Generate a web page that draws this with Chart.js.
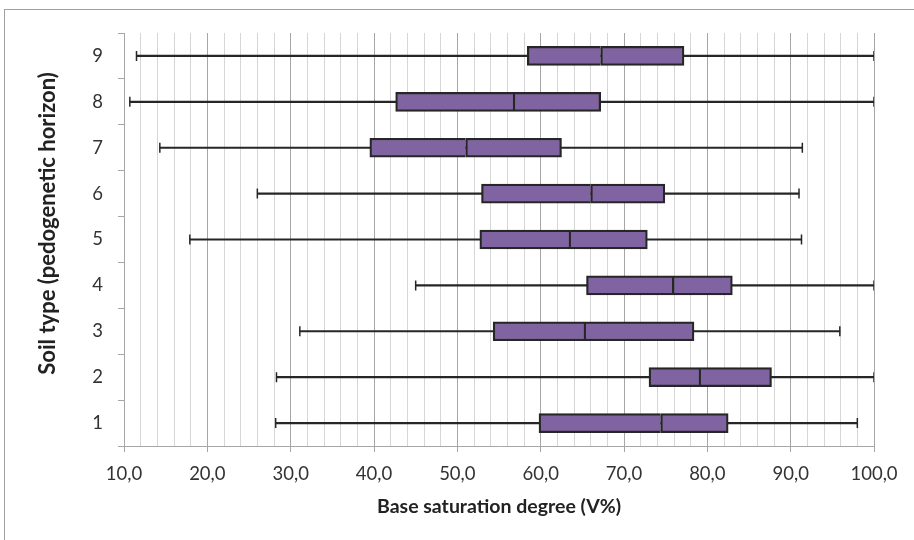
<!DOCTYPE html>
<html><head><meta charset="utf-8">
<script src="https://cdn.jsdelivr.net/npm/chart.js@4/dist/chart.umd.min.js"></script>
<style>
html,body{margin:0;padding:0;background:#fff;overflow:hidden;}
#wrap{position:relative;width:914px;height:540px;overflow:hidden;}
#frame{position:absolute;left:4px;top:9px;width:1000px;height:700px;border-top:1px solid #a0a0a0;border-left:1px solid #a0a0a0;}
canvas{position:absolute;left:0;top:0;}
</style></head><body>
<div id="wrap"><div id="frame"></div><canvas id="c" width="914" height="540"></canvas></div>
<script>
const soilTypes = ['1','2','3','4','5','6','7','8','9'];
const minV = [28.2, 28.3, 31.1, 45.0, 17.9, 26.0, 14.3, 10.7, 11.5];
const q1V  = [59.8, 73.0, 54.3, 65.5, 52.7, 52.9, 39.5, 42.6, 58.4];
const medV = [74.4, 79.0, 65.2, 75.8, 63.4, 66.0, 51.0, 56.7, 67.2];
const q3V  = [82.5, 87.7, 78.4, 83.0, 72.8, 74.9, 62.5, 67.2, 77.2];
const maxV = [98.0, 100.0, 95.9, 100.0, 91.3, 91.0, 91.4, 100.0, 100.0];
const xTickValues = [10, 20, 30, 40, 50, 60, 70, 80, 90, 100];
const xTickLabels = ['10,0', '20,0', '30,0', '40,0', '50,0', '60,0', '70,0', '80,0', '90,0', '100,0'];

const boxFill = '#8064A2';
const edge = '#262626';
const capPoints = soilTypes.map((s, i) => ({x: minV[i], y: s}))
  .concat(soilTypes.map((s, i) => ({x: maxV[i], y: s})));

new Chart(document.getElementById('c'), {
  type: 'bar',
  data: {
    labels: soilTypes,
    datasets: [
      {label: 'upper', data: soilTypes.map((s, i) => [medV[i], q3V[i]]),
       backgroundColor: boxFill, borderColor: edge, borderWidth: 2.25, borderSkipped: false,
       barThickness: 19, grouped: false},
      {label: 'lower', data: soilTypes.map((s, i) => [q1V[i], medV[i]]),
       backgroundColor: boxFill, borderColor: edge, borderWidth: 2.25, borderSkipped: 'end',
       barThickness: 19, grouped: false},
      {type: 'scatter', label: 'caps', data: capPoints, pointStyle: 'line', rotation: 90,
       radius: 5, borderColor: edge, borderWidth: 1.5, showLine: false},
      {label: 'whisker', data: soilTypes.map((s, i) => [minV[i], maxV[i]]),
       backgroundColor: edge, borderWidth: 0, barThickness: 1.5, grouped: false}
    ]
  },
  options: {
    indexAxis: 'y',
    responsive: false,
    animation: false,
    layout: {padding: {left: 29, right: 40, top: 33, bottom: 22}},
    plugins: {legend: {display: false}, tooltip: {enabled: false}},
    scales: {
      x: {
        type: 'linear', min: 10, max: 100,
        ticks: {stepSize: 2, autoSkip: false, maxRotation: 0, minRotation: 0, padding: 11,
          color: '#333333', font: {family: 'Lato', size: 18.5},
          callback: (v) => { const k = xTickValues.indexOf(v); return k >= 0 ? xTickLabels[k] : ''; }},
        grid: {
          color: (c) => (c.tick && c.tick.value % 10 === 0) ? '#a6a6a6' : '#d6d6d6',
          tickColor: (c) => (c.tick && c.tick.value % 10 === 0) ? '#a6a6a6' : 'rgba(0,0,0,0)',
          tickLength: 6, lineWidth: 1
        },
        border: {color: '#a6a6a6'},
        title: {display: true, text: 'Base saturation degree (V%)', color: '#222222',
          font: {family: 'Lato', size: 19.5, weight: 'bold'}, padding: {top: 0, bottom: 0}},
        afterFit: (s) => { s.height = 72; }
      },
      y: {
        type: 'category', reverse: true, offset: true,
        grid: {drawOnChartArea: false, offset: true, tickLength: 6, color: '#a6a6a6'},
        border: {color: '#a6a6a6'},
        ticks: {padding: 15, color: '#333333', font: {family: 'Lato', size: 18.5}},
        title: {display: true, text: '\u00a0\u00a0\u00a0\u00a0\u00a0\u00a0Soil type (pedogenetic horizon)', color: '#222222',
          font: {family: 'Lato', size: 22, weight: 'bold'}, padding: {top: 6, bottom: 0}},
        afterFit: (s) => { s.width = 95; }
      }
    }
  }
});
</script>
</body></html>
